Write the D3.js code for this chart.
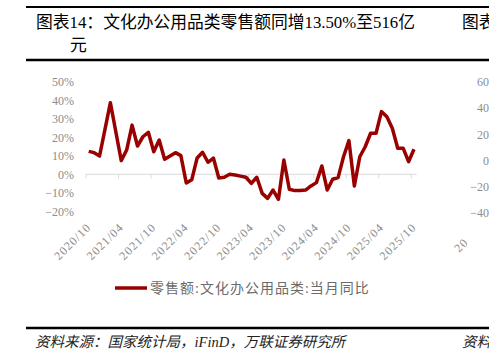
<!DOCTYPE html>
<html>
<head>
<meta charset="utf-8">
<script src="https://cdn.jsdelivr.net/npm/d3@7"></script>
<style>
	body { margin: 0; background: #fff; }
	svg { display: block; }
</style>
</head>
<body>
<div id="graphicContainer"></div>
<script>

// monthly categories, 2020/10 .. 2025/10
var months = d3.timeMonth.range(new Date(2020, 9, 1), new Date(2025, 10, 1)).map(d3.timeFormat("%Y/%m"))

// 零售额:文化办公用品类:当月同比 (%)
var values = [12.4, 11.7, 9.9, 24.3, 38.7, 23.0, 7.4, 13.1, 26.6, 15.3,
	20.3, 22.7, 12.2, 18.5, 8.1, 9.9, 11.7, 10.1, -4.7, -3.0,
	8.8, 11.9, 6.5, 8.8, -2.0, -1.6, 0.0, -0.4, -1.0, -1.6,
	-4.9, -1.6, -10.3, -13.0, -8.5, -13.5, 7.7, -8.1, -8.8, -8.8,
	-8.5, -6.3, -4.5, 4.5, -8.5, -2.7, -1.8, 9.5, 18.2, -6.3,
	9.5, 14.9, 22.2, 22.2, 33.9, 31.1, 24.9, 14.1, 14.1, 6.8, 13.5]

var tickLabels = ["2020/10", "2021/04", "2021/10", "2022/04", "2022/10", "2023/04",
	"2023/10", "2024/04", "2024/10", "2025/04", "2025/10"]

var yTicks = [50, 40, 30, 20, 10, 0, -10, -20]

// the neighbouring chart, cut off at the right edge
var nextTicks = ["60%", "40%", "20%", "0%", "-20%", "-40%"]

var width = 489
var height = 359
var serif = "'Liberation Serif', 'Noto Sans CJK SC', serif"
var red = "#990000"

var svg = d3.select("#graphicContainer").append("svg")
	.attr("width", width)
	.attr("height", height)

// rules
;[7, 60, 328].forEach(function(y, i) {
	svg.append("line")
		.attr("x1", 26).attr("x2", width)
		.attr("y1", y).attr("y2", y)
		.attr("stroke", "#000")
		.attr("stroke-width", i == 0 ? 2 : 2.5)
})

// title
svg.append("text")
	.attr("x", 36).attr("y", 28)
	.attr("font-family", serif)
	.attr("font-size", 16.8)
	.text("图表14：文化办公用品类零售额同增13.50%至516亿")

svg.append("text")
	.attr("x", 70).attr("y", 51)
	.attr("font-family", serif)
	.attr("font-size", 16.8)
	.text("元")

svg.append("text")
	.attr("x", 462).attr("y", 28)
	.attr("font-family", serif)
	.attr("font-size", 16.8)
	.text("图表")

var x = d3.scaleBand()
	.domain(months)
	.range([86, 416.7])
	.padding(0)

var y = d3.scaleLinear()
	.domain([-20, 50])
	.range([211.3, 81.8])

// y labels
svg.append("g")
	.selectAll("text")
	.data(yTicks)
	.enter()
	.append("text")
	.attr("x", 74)
	.attr("y", d => y(d))
	.attr("dy", "0.35em")
	.attr("text-anchor", "end")
	.attr("font-family", serif)
	.attr("font-size", 12)
	.attr("fill", "#8c8c8c")
	.text(d => (d < 0 ? "\u2212" + Math.abs(d) : d) + "%")

// zero axis line + ticks
var axis = svg.append("g")

axis.append("line")
	.attr("x1", x.range()[0]).attr("x2", x.range()[1])
	.attr("y1", y(0)).attr("y2", y(0))
	.attr("stroke", "#d9d9d9")
	.attr("stroke-width", 1)

axis.selectAll(".tick")
	.data(tickLabels)
	.enter()
	.append("line")
	.attr("class", "tick")
	.attr("x1", d => x(d)).attr("x2", d => x(d))
	.attr("y1", y(0)).attr("y2", y(0) + 4)
	.attr("stroke", "#d9d9d9")

// rotated x labels
svg.append("g")
	.selectAll("text")
	.data(tickLabels)
	.enter()
	.append("text")
	.attr("transform", d => "translate(" + (x(d) + x.bandwidth() / 2 + 3) + ",228) rotate(-45)")
	.attr("text-anchor", "end")
	.attr("font-family", serif)
	.attr("font-size", 12)
	.attr("letter-spacing", 1)
	.attr("fill", "#8c8c8c")
	.text(d => d)

// the series
var line = d3.line()
	.x((d, i) => x(months[i]) + x.bandwidth() / 2)
	.y(d => y(d))

svg.append("path")
	.datum(values)
	.attr("d", line)
	.attr("fill", "none")
	.attr("stroke", red)
	.attr("stroke-width", 3.5)
	.attr("stroke-linejoin", "round")

// legend
svg.append("line")
	.attr("x1", 115).attr("x2", 147)
	.attr("y1", 288).attr("y2", 288)
	.attr("stroke", red)
	.attr("stroke-width", 3.5)

svg.append("text")
	.attr("x", 150).attr("y", 293)
	.attr("font-family", serif)
	.attr("font-size", 14)
	.attr("letter-spacing", 1)
	.attr("fill", "#6b6b6b")
	.text("零售额:文化办公用品类:当月同比")

// right-hand chart fragments
svg.append("g")
	.selectAll("text")
	.data(nextTicks)
	.enter()
	.append("text")
	.attr("x", 499)
	.attr("y", (d, i) => 81.7 + i * 26.3)
	.attr("dy", "0.35em")
	.attr("text-anchor", "end")
	.attr("font-family", serif)
	.attr("font-size", 12)
	.attr("fill", "#8c8c8c")
	.text(d => d.replace("-", "\u2212"))

svg.append("text")
	.attr("transform", "translate(459,253) rotate(-45)")
	.attr("font-family", serif)
	.attr("font-size", 12)
	.attr("letter-spacing", 1)
	.attr("fill", "#8c8c8c")
	.text("20")

// source
svg.append("text")
	.attr("x", 35).attr("y", 347)
	.attr("font-family", serif)
	.attr("font-size", 14.5)
	.attr("font-style", "italic")
	.attr("fill", "#222")
	.text("资料来源：国家统计局，iFinD，万联证券研究所")

svg.append("text")
	.attr("x", 462).attr("y", 347)
	.attr("font-family", serif)
	.attr("font-size", 14.5)
	.attr("font-style", "italic")
	.attr("fill", "#222")
	.text("资料")

</script>
</body>
</html>
